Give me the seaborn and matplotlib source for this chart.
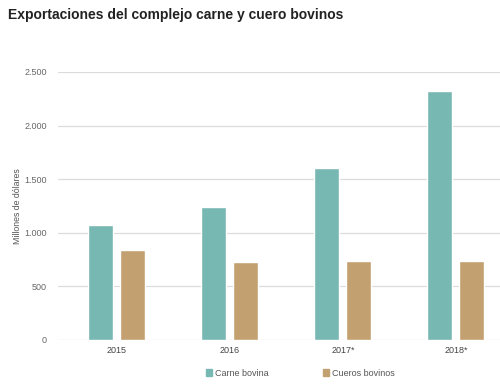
import matplotlib.pyplot as plt
import pandas as pd
import seaborn as sns

years = ['2015', '2016', '2017*', '2018*']
carne_bovina = [1073, 1241, 1604, 2323]
cueros_bovinos = [840, 728, 740, 734]
series_names = ['Carne bovina', 'Cueros bovinos']
colors = ['#78b8b3', '#c3a06f']

df = pd.DataFrame({
    'year': years * 2,
    'value': carne_bovina + cueros_bovinos,
    'serie': [series_names[0]] * 4 + [series_names[1]] * 4,
})

sns.set_theme(style='white')
plt.rcParams['font.family'] = ['Liberation Sans', 'DejaVu Sans']

fig = plt.figure(figsize=(5, 3.85), dpi=100)
ax = fig.add_axes([0.116, 0.117, 0.884, 0.696])

sns.barplot(data=df, x='year', y='value', hue='serie', palette=colors,
            width=0.565, gap=0.22, saturation=1, ax=ax, legend=False)

ax.set_ylim(0, 2500)
ax.set_xlim(-0.52, 3.39)
ax.set_yticks(range(0, 2501, 500))
ax.set_yticklabels(['0', '500', '1.000', '1.500', '2.000', '2.500'])
ax.yaxis.grid(True, color='#dcdcdc', linewidth=0.9)
ax.set_axisbelow(True)
for s in ax.spines.values():
    s.set_visible(False)
ax.tick_params(axis='both', length=0, labelsize=6.5, colors='#666666', pad=8)
ax.tick_params(axis='x', pad=4, colors='#444444')
ax.set_xlabel('')
ax.set_ylabel('Millones de dólares', fontsize=6.3, color='#555555')
ax.yaxis.set_label_coords(-0.082, 0.5)

handles = [plt.Rectangle((0, 0), 1, 1, color=c) for c in colors]
fig.legend(handles, series_names, loc='center', bbox_to_anchor=(0.6, 0.031),
           ncol=2, frameon=False, fontsize=6.5, labelcolor='#555555',
           handlelength=0.7, handleheight=0.7, handletextpad=0.3, columnspacing=6)

fig.text(0.016, 0.962, 'Exportaciones del complejo carne y cuero bovinos',
         fontsize=10, fontweight='bold', color='#222222', va='center')

fig.savefig('out.png', dpi=100)
